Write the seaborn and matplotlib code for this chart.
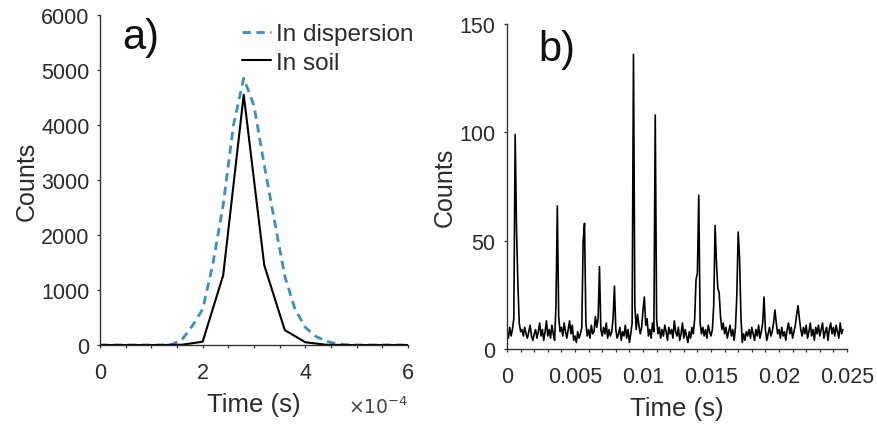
import numpy as np
import pandas as pd
import matplotlib
matplotlib.use("Agg")
import matplotlib.pyplot as plt
import seaborn as sns
from matplotlib.ticker import MultipleLocator

sns.set_style("ticks")
plt.rcParams['font.family'] = ['Liberation Sans', 'DejaVu Sans']

# ---- Panel a data (time in units of 1e-4 s) ----
time_soil = [0, 0.4, 0.8, 1.2, 1.6, 2.0, 2.4, 2.8, 3.2, 3.6, 4.0, 4.4, 4.8, 5.2, 5.6, 6.0]
counts_soil = [0, 0, 0, 0, 5, 60, 1270, 4550, 1450, 270, 50, 5, 0, 0, 0, 0]

time_disp = [0, 0.2, 0.4, 0.6, 0.8, 1.0, 1.2, 1.4, 1.6, 1.8, 2.0, 2.2, 2.4, 2.6, 2.8,
             3.0, 3.2, 3.4, 3.6, 3.8, 4.0, 4.2, 4.4, 4.6, 4.8, 5.0, 5.2, 5.4, 5.6, 5.8, 6.0]
counts_disp = [0, 0, 0, 0, 0, 0, 0, 10, 100, 350, 650, 1480, 2550, 4000, 4850,
               4350, 3270, 2250, 1250, 650, 320, 160, 70, 25, 5, 0, 0, 0, 0, 0, 0]

# ---- Panel b data (dwell 0.1 ms) ----
dwell_b = 0.0001
counts_b = [
    8, 5, 10, 6, 9, 14, 99, 55, 30, 12,
    8, 9, 6, 10, 7, 5, 8, 11, 6, 4,
    7, 9, 5, 8, 12, 6, 9, 4, 8, 13,
    6, 9, 5, 11, 7, 4, 20, 66, 15, 8,
    10, 6, 12, 8, 5, 9, 13, 7, 11, 4,
    6, 3, 8, 5, 7, 10, 50, 58, 12, 6,
    9, 5, 11, 7, 8, 15, 10, 14, 38, 9,
    6, 10, 7, 12, 5, 9, 6, 8, 14, 29,
    9, 5, 7, 10, 4, 8, 6, 11, 5, 9,
    3, 7, 12, 136, 20, 9, 16, 11, 7, 10,
    18, 24, 11, 14, 6, 9, 5, 12, 8, 108,
    14, 7, 10, 5, 9, 6, 11, 8, 4, 10,
    7, 9, 5, 13, 8, 6, 10, 4, 7, 12,
    5, 9, 6, 3, 8, 5, 10, 7, 14, 32,
    35, 71, 12, 7, 10, 6, 9, 5, 11, 8,
    6, 9, 20, 57, 40, 28, 26, 15, 9, 12,
    7, 10, 5, 8, 11, 6, 9, 4, 10, 25,
    54, 42, 15, 3, 7, 4, 8, 6, 9, 5,
    10, 7, 4, 9, 6, 11, 5, 8, 12, 24,
    9, 4, 7, 10, 6, 8, 12, 18, 12, 7,
    9, 5, 10, 6, 8, 4, 9, 12, 7, 10,
    5, 8, 11, 16, 20, 14, 9, 6, 10, 7,
    11, 5, 8, 12, 6, 9, 4, 10, 7, 11,
    6, 9, 12, 5, 8, 10, 4, 9, 12, 7,
    10, 6, 11, 8, 5, 12, 7, 9,
]
time_b = np.arange(len(counts_b)) * dwell_b

W, H = 878, 427
fig = plt.figure(figsize=(W / 100, H / 100), dpi=100)

def px_axes(l, t, r, b):
    return fig.add_axes([l / W, 1 - b / H, (r - l) / W, (b - t) / H])

def fx(x):
    return x / W

def fy(y):
    return 1 - y / H

axa = px_axes(100, 16, 408, 346)
axb = px_axes(507, 25, 847, 350)

txt = "#2b2b2b"
blue = "#3a8fc8"
sns.lineplot(x=time_disp, y=counts_disp, ax=axa, color=blue, lw=2.0,
             label="In dispersion")
axa.lines[-1].set_dashes((3, 2.0))
sns.lineplot(x=time_soil, y=counts_soil, ax=axa, color="black", lw=1.5,
             label="In soil")
axa.set_xlim(0, 6)
axa.set_ylim(0, 6000)
axa.xaxis.set_major_locator(MultipleLocator(2))
axa.xaxis.set_minor_locator(MultipleLocator(0.5))
axa.yaxis.set_major_locator(MultipleLocator(1000))
axa.set_xlabel("Time (s)", fontsize=18.5, color=txt, labelpad=6)
axa.set_ylabel("Counts", fontsize=18, color=txt, labelpad=2)
fig.text(fx(408), fy(397), r"$\times10^{-4}$", ha="right", va="top",
         fontsize=13.5, color="#444444")
leg = axa.legend(loc="upper left", frameon=False, fontsize=17.5, handlelength=1.2,
                 handletextpad=0.2, borderpad=0.0, borderaxespad=0.0,
                 labelspacing=0.27, bbox_to_anchor=(fx(242), fy(24)),
                 bbox_transform=fig.transFigure)
for t in leg.get_texts():
    t.set_color(txt)
fig.text(fx(122), fy(18), "a)", fontsize=30, va="top", ha="left", color="#111111")

sns.lineplot(x=time_b, y=counts_b, ax=axb, color="black", lw=1.2)
axb.set_xlim(0, 0.025)
axb.set_ylim(0, 150)
axb.xaxis.set_minor_locator(MultipleLocator(0.001))
axb.yaxis.set_major_locator(MultipleLocator(50))
axb.set_xticks([0, 0.005, 0.01, 0.015, 0.02, 0.025])
axb.set_xticklabels(["0", "0.005", "0.01", "0.015", "0.02", "0.025"])
axb.set_xlabel("Time (s)", fontsize=18.5, color=txt, labelpad=6)
axb.set_ylabel("Counts", fontsize=18, color=txt, labelpad=2)
fig.text(fx(538), fy(30), "b)", fontsize=30, va="top", ha="left", color="#111111")

for ax in (axa, axb):
    for s in ("top", "right"):
        ax.spines[s].set_visible(False)
    for s in ("left", "bottom"):
        ax.spines[s].set_color("#333333")
        ax.spines[s].set_linewidth(1.0)
    ax.tick_params(which="both", direction="out", colors="#333333",
                   labelcolor=txt, labelsize=15.5, width=0.9, length=2.5)
    ax.tick_params(axis="x", which="major", pad=10)
    ax.set_facecolor("white")
axa.tick_params(axis="y", pad=5)
axb.tick_params(axis="y", pad=6)

fig.savefig("out.png", dpi=100, facecolor="white")
